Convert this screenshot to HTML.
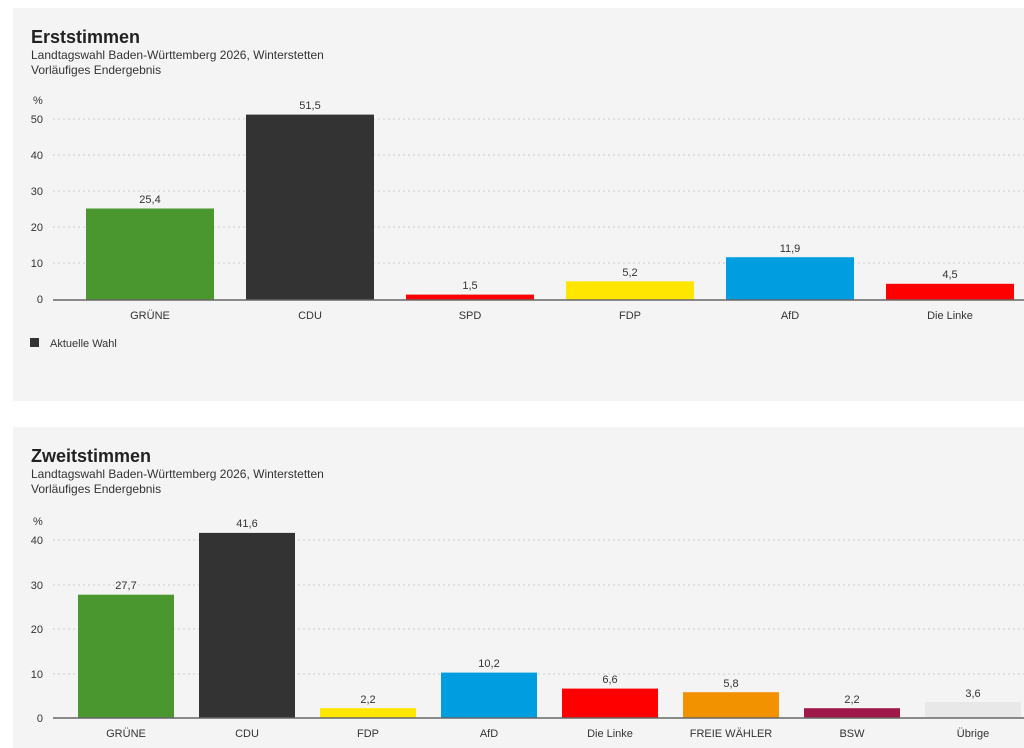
<!DOCTYPE html>
<html><head><meta charset="utf-8"><style>
body{margin:0;width:1024px;height:748px;background:#fff;overflow:hidden;font-family:"Liberation Sans",sans-serif;}
svg{position:absolute;left:0;top:0}
</style></head><body>
<svg width="1024" height="748" viewBox="0 0 1024 748" font-family="Liberation Sans, sans-serif">
<rect x="13" y="8" width="1011" height="393" fill="#f4f4f4"/>
<rect x="13" y="427" width="1011" height="321" fill="#f4f4f4"/>
<g fill="#222">
<text x="31" y="43" font-size="18" font-weight="bold">Erststimmen</text>
<text x="31" y="59" font-size="12" fill="#333">Landtagswahl Baden-Württemberg 2026, Winterstetten</text>
<text x="31" y="74" font-size="12" fill="#333">Vorläufiges Endergebnis</text>
<text x="31" y="462" font-size="18" font-weight="bold">Zweitstimmen</text>
<text x="31" y="478" font-size="12" fill="#333">Landtagswahl Baden-Württemberg 2026, Winterstetten</text>
<text x="31" y="493" font-size="12" fill="#333">Vorläufiges Endergebnis</text>
</g>
<g font-size="11" fill="#333">
<text x="33" y="104">%</text>
<g text-anchor="end"><text x="43" y="123">50</text><text x="43" y="159">40</text><text x="43" y="195">30</text><text x="43" y="231">20</text><text x="43" y="267">10</text><text x="43" y="303">0</text></g>
<g stroke="#ccc" stroke-dasharray="2,3"><line x1="53" x2="1024" y1="119" y2="119"/><line x1="53" x2="1024" y1="155" y2="155"/><line x1="53" x2="1024" y1="191" y2="191"/><line x1="53" x2="1024" y1="227" y2="227"/><line x1="53" x2="1024" y1="263" y2="263"/></g>
<rect x="86" y="208.5" width="128" height="91.5" fill="#4a962f"/>
<rect x="246" y="114.6" width="128" height="185.4" fill="#333"/>
<rect x="406" y="294.6" width="128" height="5.4" fill="#f00"/>
<rect x="566" y="281.3" width="128" height="18.7" fill="#ffe600"/>
<rect x="726" y="257.2" width="128" height="42.8" fill="#009ee0"/>
<rect x="886" y="283.8" width="128" height="16.2" fill="#f00"/>
<line x1="53" x2="1024" y1="300" y2="300" stroke="#666" stroke-width="1.5"/>
<g text-anchor="middle">
<text x="150" y="203">25,4</text><text x="310" y="109">51,5</text><text x="470" y="289">1,5</text><text x="630" y="276">5,2</text><text x="790" y="252">11,9</text><text x="950" y="278">4,5</text>
<text x="150" y="319">GRÜNE</text><text x="310" y="319">CDU</text><text x="470" y="319">SPD</text><text x="630" y="319">FDP</text><text x="790" y="319">AfD</text><text x="950" y="319">Die Linke</text>
</g>
<rect x="30" y="338" width="9" height="9" fill="#333"/>
<text x="50" y="347">Aktuelle Wahl</text>

<text x="33" y="525">%</text>
<g text-anchor="end"><text x="43" y="544">40</text><text x="43" y="589">30</text><text x="43" y="633">20</text><text x="43" y="678">10</text><text x="43" y="722">0</text></g>
<g stroke="#ccc" stroke-dasharray="2,3"><line x1="53" x2="1024" y1="540" y2="540"/><line x1="53" x2="1024" y1="585" y2="585"/><line x1="53" x2="1024" y1="629" y2="629"/><line x1="53" x2="1024" y1="674" y2="674"/></g>
<rect x="78" y="594.7" width="96" height="123.3" fill="#4a962f"/>
<rect x="199" y="532.9" width="96" height="185.1" fill="#333"/>
<rect x="320" y="708.2" width="96" height="9.8" fill="#ffe600"/>
<rect x="441" y="672.6" width="96" height="45.4" fill="#009ee0"/>
<rect x="562" y="688.6" width="96" height="29.4" fill="#f00"/>
<rect x="683" y="692.2" width="96" height="25.8" fill="#f39200"/>
<rect x="804" y="708.2" width="96" height="9.8" fill="#a0184a"/>
<rect x="925" y="702" width="96" height="16" fill="#e8e8e8"/>
<line x1="53" x2="1024" y1="718" y2="718" stroke="#666" stroke-width="1.5"/>
<g text-anchor="middle">
<text x="126" y="589">27,7</text><text x="247" y="527">41,6</text><text x="368" y="703">2,2</text><text x="489" y="667">10,2</text><text x="610" y="683">6,6</text><text x="731" y="687">5,8</text><text x="852" y="703">2,2</text><text x="973" y="697">3,6</text>
<text x="126" y="737">GRÜNE</text><text x="247" y="737">CDU</text><text x="368" y="737">FDP</text><text x="489" y="737">AfD</text><text x="610" y="737">Die Linke</text><text x="731" y="737">FREIE WÄHLER</text><text x="852" y="737">BSW</text><text x="973" y="737">Übrige</text>
</g>
</g>
</svg>
</body></html>
